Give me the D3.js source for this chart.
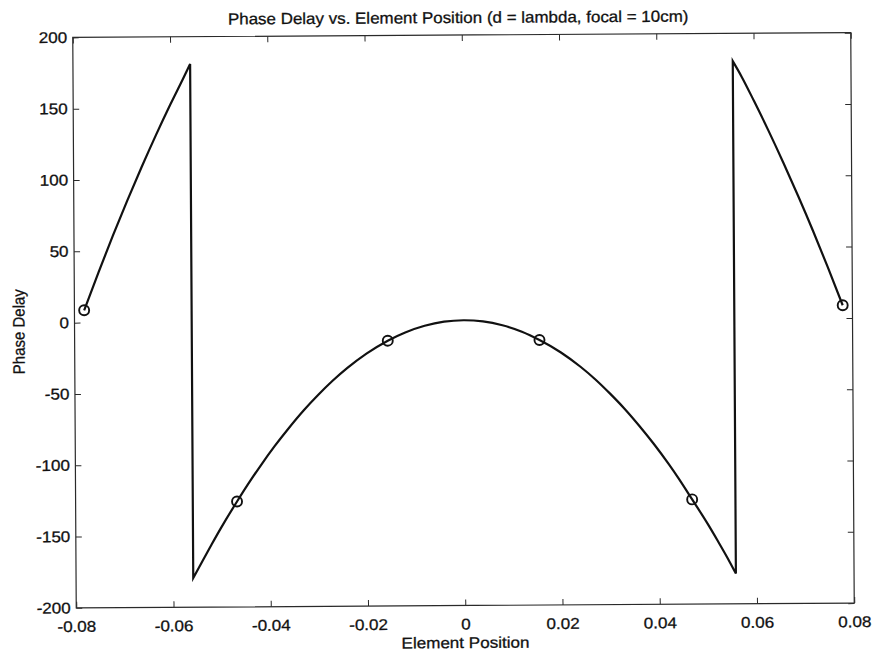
<!DOCTYPE html>
<html>
<head>
<meta charset="utf-8">
<script src="https://cdn.jsdelivr.net/npm/d3@7"></script>
<style>
  body { margin: 0; background: #fff; }
  svg { display: block; background: #fff; }
  text {
    font-family: "Liberation Sans", Arial, Helvetica, sans-serif;
    fill: #111; stroke: #111; stroke-width: 0.3px;
  }
</style>
</head>
<body>
<svg id="chart" width="873" height="654"></svg>
<script>
// Phase delay (degrees) across the aperture, wrapped to [-180, 180]
const curveX = [
  -0.078, -0.075, -0.072, -0.069, -0.066, -0.063, -0.060, -0.0575, -0.0559,
  -0.0559, -0.054, -0.052, -0.050, -0.0468, -0.044, -0.042, -0.039, -0.036, -0.033,
  -0.030, -0.027, -0.024, -0.020, -0.0156, -0.012, -0.008, -0.004, 0,
  0.004, 0.008, 0.012, 0.0156, 0.020, 0.024, 0.027, 0.030, 0.033, 0.036, 0.039,
  0.042, 0.044, 0.0468, 0.050, 0.052, 0.054, 0.0557,
  0.0557, 0.0575, 0.060, 0.063, 0.066, 0.069, 0.072, 0.075, 0.078
];
const curvePhase = [
  8.6, 35.2, 60.8, 85.3, 108.8, 131.3, 152.7, 169.7, 180.8,
  -179.5, -167.8, -155.6, -143.8, -126.1, -111.4, -101.5, -87.5, -74.6, -62.6,
  -51.8, -41.9, -33.1, -23, -14, -8.3, -3.7, -0.9, 0,
  -0.9, -3.7, -8.3, -14.2, -23, -33.1, -41.9, -51.9, -62.7, -74.7, -87.6,
  -101.6, -111.6, -126.6, -144, -155.7, -167.8, -178.8,
  180.5, 169.6, 152.6, 131.3, 108.9, 85.5, 61.1, 35.5, 8.9
];

// Array element positions (m) and their phase delays (degrees)
const elementX = [-0.078, -0.0468, -0.0156, 0.0156, 0.0468, 0.078];
const elementPhase = [8.6, -126.1, -14, -14.2, -126.6, 8.9];

// Axis ticks
const xTicks = [-0.08, -0.06, -0.04, -0.02, 0, 0.02, 0.04, 0.06, 0.08];
const xTickLabels = ["-0.08", "-0.06", "-0.04", "-0.02", "0", "0.02", "0.04", "0.06", "0.08"];
const yTicks = [-200, -150, -100, -50, 0, 50, 100, 150, 200];
const yTickLabels = ["-200", "-150", "-100", "-50", "0", "50", "100", "150", "200"];

const titleText = "Phase Delay vs. Element Position (d = lambda, focal = 10cm)";
const xLabelText = "Element Position";
const yLabelText = "Phase Delay";

const svg = d3.select("#chart");
const m = { left: 74.5, right: 852.5, top: 35, bottom: 605.5 };

const x = d3.scaleLinear().domain([-0.08, 0.08]).range([m.left, m.right]);
const y = d3.scaleLinear().domain([-200, 200]).range([m.bottom, m.top]);

// the whole sheet sits a touch off-square
const root = svg.append("g").attr("transform", "rotate(-0.35 464 320)");

const tickLen = 6;
const axisColor = "#2a2a2a";
const fontSize = "15.5px";
const stretch = 1.1;   // glyphs are printed slightly wide

function styleAxis(g) {
  g.select(".domain").remove();
  g.selectAll(".tick line").attr("stroke", axisColor).attr("stroke-width", 1);
  g.selectAll(".tick text")
    .attr("transform", `scale(${stretch},1)`)
    .style("font-size", fontSize)
    .style("font-family", "\"Liberation Sans\", Arial, Helvetica, sans-serif")
    .attr("fill", "#111");
}

// bottom axis with labels, ticks pointing inward
root.append("g")
  .attr("transform", `translate(0,${m.bottom})`)
  .call(d3.axisBottom(x).tickValues(xTicks)
    .tickFormat((d, i) => xTickLabels[i])
    .tickSizeInner(-tickLen).tickSizeOuter(0).tickPadding(13))
  .call(styleAxis);

// top axis ticks only
root.append("g")
  .attr("transform", `translate(0,${m.top})`)
  .call(d3.axisTop(x).tickValues(xTicks).tickFormat("")
    .tickSizeInner(-tickLen).tickSizeOuter(0))
  .call(styleAxis);

// left axis with labels
root.append("g")
  .attr("transform", `translate(${m.left},0)`)
  .call(d3.axisLeft(y).tickValues(yTicks)
    .tickFormat((d, i) => yTickLabels[i])
    .tickSizeInner(-tickLen).tickSizeOuter(0).tickPadding(5))
  .call(styleAxis);

// right axis ticks only
root.append("g")
  .attr("transform", `translate(${m.right},0)`)
  .call(d3.axisRight(y).tickValues(yTicks).tickFormat("")
    .tickSizeInner(-tickLen).tickSizeOuter(0))
  .call(styleAxis);

// axes box
root.append("rect")
  .attr("x", m.left).attr("y", m.top)
  .attr("width", m.right - m.left).attr("height", m.bottom - m.top)
  .attr("fill", "none").attr("stroke", axisColor).attr("stroke-width", 1.2);

// split the wrapped curve at its ±180° jumps, smooth each branch, join with straight drops
const pts = curveX.map((v, i) => [v, curvePhase[i]]);
const segments = [];
let cur = [pts[0]];
for (let i = 1; i < pts.length; i++) {
  if (Math.abs(pts[i][1] - pts[i - 1][1]) > 180) { segments.push(cur); cur = []; }
  cur.push(pts[i]);
}
segments.push(cur);

const line = d3.line()
  .x(d => x(d[0])).y(d => y(d[1]))
  .curve(d3.curveMonotoneX);

const pathD = segments.map((s, i) => {
  const d = line(s);
  return i === 0 ? d : "L" + d.slice(1);
}).join("");

root.append("path")
  .attr("d", pathD)
  .attr("fill", "none")
  .attr("stroke", "#111")
  .attr("stroke-width", 2.2)
  .attr("stroke-linejoin", "miter");

// element markers
root.append("g").selectAll("circle")
  .data(elementX.map((v, i) => [v, elementPhase[i]]))
  .join("circle")
  .attr("cx", d => x(d[0]))
  .attr("cy", d => y(d[1]))
  .attr("r", 5)
  .attr("fill", "none")
  .attr("stroke", "#111")
  .attr("stroke-width", 1.9);

// title and axis labels
root.append("text")
  .attr("transform", `translate(460,23) scale(1.06,1)`)
  .attr("text-anchor", "middle")
  .style("font-size", "16px")
  .text(titleText);

root.append("text")
  .attr("transform", `translate(${(m.left + m.right) / 2},648) scale(${stretch},1)`)
  .attr("text-anchor", "middle")
  .style("font-size", fontSize)
  .text(xLabelText);

root.append("text")
  .attr("transform", `translate(24.5,329) scale(${stretch},1) rotate(-90)`)
  .attr("text-anchor", "middle")
  .style("font-size", "15px")
  .text(yLabelText);
</script>
</body>
</html>
